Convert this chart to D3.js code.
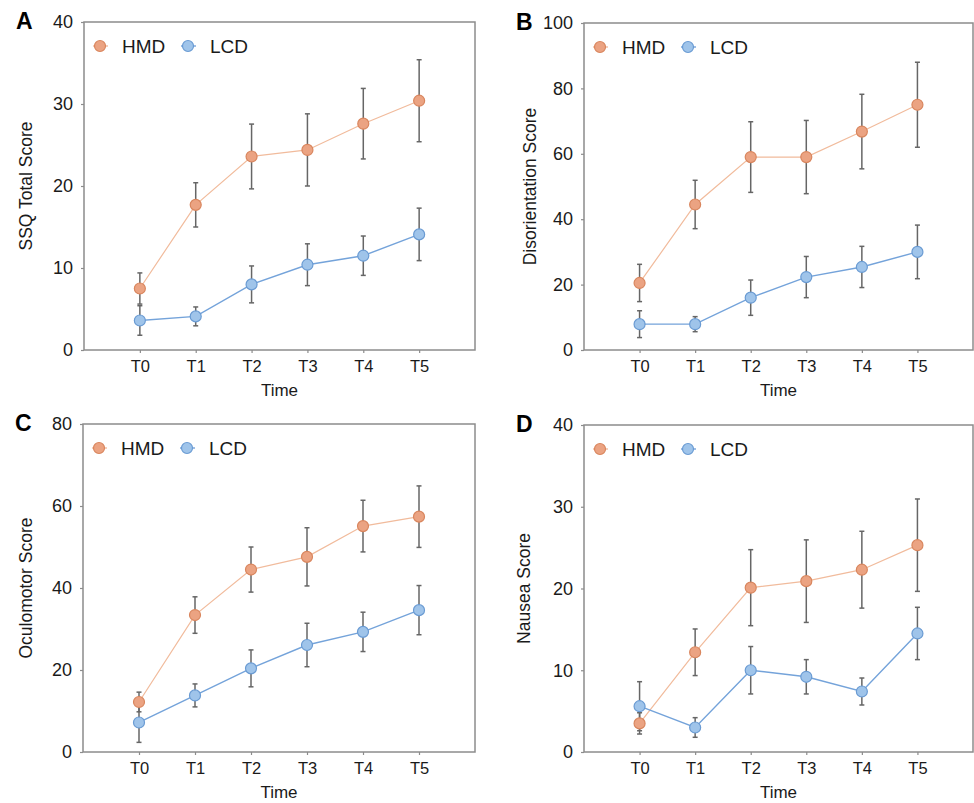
<!DOCTYPE html>
<html>
<head>
<meta charset="utf-8">
<script src="https://cdnjs.cloudflare.com/ajax/libs/d3/7.8.5/d3.min.js"></script>
<style>
  body { margin: 0; background: #fff; }
  svg { font-family: Arial, "Liberation Sans", sans-serif; }
</style>
</head>
<body>
<div id="chart"></div>
<script>
// time points
var timePoints = ["T0", "T1", "T2", "T3", "T4", "T5"];

// A: SSQ total
var ssqHMD = [7.5, 17.7, 23.6, 24.4, 27.6, 30.4];
var ssqHMDsd = [1.9, 2.7, 3.95, 4.4, 4.3, 5.0];
var ssqLCD = [3.6, 4.1, 8.0, 10.4, 11.5, 14.1];
var ssqLCDsd = [1.8, 1.15, 2.25, 2.55, 2.4, 3.2];

// B: disorientation
var disHMD = [20.5, 44.5, 59.0, 59.0, 66.8, 75.0];
var disHMDsd = [5.7, 7.4, 10.8, 11.2, 11.4, 13.0];
var disLCD = [7.9, 7.9, 16.0, 22.3, 25.4, 30.0];
var disLCDsd = [4.1, 2.3, 5.4, 6.3, 6.3, 8.2];

// C: oculomotor
var ocuHMD = [12.2, 33.4, 44.5, 47.6, 55.1, 57.4];
var ocuHMDsd = [2.4, 4.45, 5.5, 7.1, 6.3, 7.5];
var ocuLCD = [7.2, 13.8, 20.4, 26.1, 29.3, 34.6];
var ocuLCDsd = [4.85, 2.8, 4.5, 5.3, 4.8, 6.0];

// D: nausea
var nauHMD = [3.5, 12.2, 20.1, 20.9, 22.3, 25.3];
var nauHMDsd = [1.3, 2.85, 4.65, 5.05, 4.7, 5.65];
var nauLCD = [5.6, 3.0, 10.0, 9.2, 7.4, 14.5];
var nauLCDsd = [3.0, 1.2, 2.9, 2.1, 1.65, 3.2];

var groups = ["HMD", "LCD"];
var yTicksA = [0, 10, 20, 30, 40];
var yTicksB = [0, 20, 40, 60, 80, 100];
var yTicksC = [0, 20, 40, 60, 80];
var yTicksD = [0, 10, 20, 30, 40];

var colors = {
  HMD: { fill: "#eba382", stroke: "#d9865e", line: "#f1bb9c" },
  LCD: { fill: "#9fc4ea", stroke: "#6a9bd3", line: "#74a3da" }
};

var svg = d3.select("#chart")
    .append("svg")
    .attr("width", 974)
    .attr("height", 803);

// titleX is the page x of the rotated y-axis title
var panels = [
  { letter: "A", x: 84, y: 22, w: 391, h: 328, titleX: 26, title: "SSQ Total Score", ticks: yTicksA,
    series: [[ssqHMD, ssqHMDsd], [ssqLCD, ssqLCDsd]] },
  { letter: "B", x: 584, y: 23, w: 389, h: 327, titleX: 530, title: "Disorientation Score", ticks: yTicksB,
    series: [[disHMD, disHMDsd], [disLCD, disLCDsd]] },
  { letter: "C", x: 83, y: 424, w: 392, h: 328, titleX: 26, title: "Oculomotor Score", ticks: yTicksC,
    series: [[ocuHMD, ocuHMDsd], [ocuLCD, ocuLCDsd]] },
  { letter: "D", x: 584, y: 425, w: 389, h: 327, titleX: 524, title: "Nausea Score", ticks: yTicksD,
    series: [[nauHMD, nauHMDsd], [nauLCD, nauLCDsd]] }
];

panels.forEach(function(p) {
  var g = svg.append("g").attr("transform", `translate(${p.x}, ${p.y})`);

  // index scale: frame spans one slot either side of T0..T5
  var x = d3.scaleLinear().domain([-1, timePoints.length]).range([0, p.w]);
  var y = d3.scaleLinear().domain([0, d3.max(p.ticks)]).range([p.h, 0]);

  // frame
  g.append("rect")
    .attr("width", p.w).attr("height", p.h)
    .attr("fill", "none").attr("stroke", "#8c8c8c").attr("stroke-width", 1.5);

  // axes
  var bottomAxis = d3.axisBottom(x)
    .tickValues(d3.range(timePoints.length))
    .tickFormat(i => timePoints[i])
    .tickSize(3).tickPadding(7);
  var leftAxis = d3.axisLeft(y).tickValues(p.ticks).tickSize(3).tickPadding(8);

  var xa = g.append("g").attr("transform", `translate(0, ${p.h})`).call(bottomAxis);
  var ya = g.append("g").call(leftAxis);
  [xa, ya].forEach(function(a) {
    a.select(".domain").remove();
    a.selectAll("line").attr("stroke", "#8c8c8c").attr("stroke-width", 1.2);
    a.selectAll("text").attr("fill", "#1a1a1a")
      .attr("font-family", "Arial, 'Liberation Sans', sans-serif");
  });
  xa.selectAll("text").attr("font-size", 16.5);
  ya.selectAll("text").attr("font-size", 18);

  // axis titles
  g.append("text")
    .attr("transform", `translate(${p.titleX - p.x}, ${p.h / 2}) rotate(-90)`)
    .attr("text-anchor", "middle").attr("dy", "0.35em")
    .attr("font-size", 17.5).attr("fill", "#1a1a1a")
    .text(p.title);

  g.append("text")
    .attr("x", p.w / 2).attr("y", p.h + 46)
    .attr("text-anchor", "middle")
    .attr("font-size", 17).attr("fill", "#1a1a1a")
    .text("Time");

  // panel letter
  g.append("text")
    .attr("x", -68).attr("y", 7)
    .attr("font-size", 23).attr("font-weight", "bold").attr("fill", "#000")
    .text(p.letter);

  var line = d3.line().x((d, i) => x(i)).y(d => y(d));

  p.series.forEach(function(s, k) {
    var c = colors[groups[k]];
    var means = s[0], sds = s[1];
    var sg = g.append("g");

    sg.append("path")
      .attr("d", line(means))
      .attr("fill", "none").attr("stroke", c.line).attr("stroke-width", k == 0 ? 1.2 : 1.4);

    var eb = sg.selectAll(".eb").data(means).enter().append("g");
    eb.append("line")
      .attr("x1", (d, i) => x(i)).attr("x2", (d, i) => x(i))
      .attr("y1", (d, i) => y(d + sds[i])).attr("y2", (d, i) => y(d - sds[i]))
      .attr("stroke", "#666").attr("stroke-width", 1.5);
    [1, -1].forEach(function(sign) {
      eb.append("line")
        .attr("x1", (d, i) => x(i) - 2.5).attr("x2", (d, i) => x(i) + 2.5)
        .attr("y1", (d, i) => y(d + sign * sds[i])).attr("y2", (d, i) => y(d + sign * sds[i]))
        .attr("stroke", "#666").attr("stroke-width", 1.5);
    });
  });

  // markers drawn after all bars
  p.series.forEach(function(s, k) {
    var c = colors[groups[k]];
    g.append("g").selectAll("circle").data(s[0]).enter().append("circle")
      .attr("cx", (d, i) => x(i)).attr("cy", d => y(d))
      .attr("r", 5.5)
      .attr("fill", c.fill).attr("stroke", c.stroke).attr("stroke-width", 1.2);
  });

  // legend
  var lg = g.append("g").attr("transform", "translate(0, 24)");
  var legendX = [16, 104];
  groups.forEach(function(name, k) {
    var c = colors[name];
    var item = lg.append("g").attr("transform", `translate(${legendX[k]}, 0)`);
    item.append("line").attr("x1", -7).attr("x2", 8)
      .attr("stroke", c.line).attr("stroke-width", 1.4);
    item.append("circle").attr("r", 5.5)
      .attr("fill", c.fill).attr("stroke", c.stroke).attr("stroke-width", 1.2);
    item.append("text").attr("x", 22).attr("dy", "0.35em")
      .attr("font-size", 19).attr("fill", "#1a1a1a")
      .text(name);
  });
});
</script>
</body>
</html>
